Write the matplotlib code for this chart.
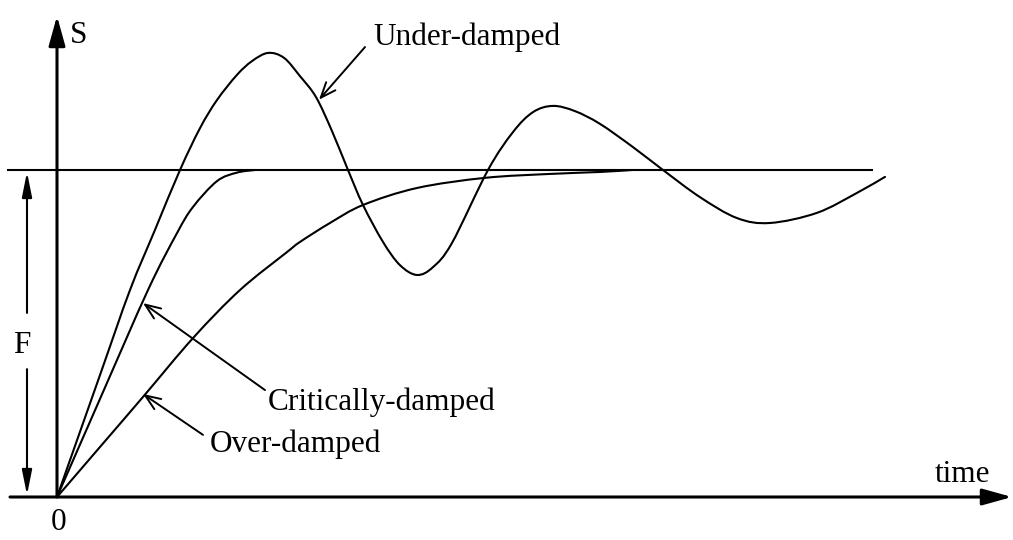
import matplotlib
matplotlib.use("Agg")
import matplotlib.pyplot as plt
from matplotlib.path import Path
from matplotlib.patches import PathPatch

plt.rcParams['font.family'] = ['Liberation Serif', 'DejaVu Serif']

# ---- data (time in arbitrary units, S normalised so that F = 1) ----
under_t = [0.00, 0.43, 0.73, 0.98, 1.23, 1.43, 1.60, 1.80, 1.95, 2.11, 2.27, 2.43,
           2.59, 2.75, 2.91, 3.06, 3.26, 3.43, 3.60, 3.76, 3.95, 4.31, 4.56, 4.76, 4.96,
           5.18, 5.43, 5.76, 6.06, 6.43, 6.80, 7.13, 7.60, 8.00, 8.28]
under_s = [0.000, 0.373, 0.633, 0.817, 1.000, 1.128, 1.214, 1.291, 1.333, 1.358, 1.343, 1.287,
           1.223, 1.119, 1.000, 0.893, 0.780, 0.709, 0.679, 0.703, 0.777, 1.000, 1.116, 1.177, 1.196,
           1.180, 1.141, 1.070, 1.000, 0.917, 0.853, 0.838, 0.869, 0.930, 0.979]

crit_t = [0.00, 0.43, 0.91, 1.20, 1.36, 1.60, 1.80, 1.98]
crit_s = [0.000, 0.300, 0.633, 0.807, 0.887, 0.966, 0.992, 1.000]

over_t = [0.00, 0.43, 0.86, 1.36, 1.83, 2.30, 2.43, 2.73, 3.06, 3.60, 4.28, 4.93, 5.43, 5.75]
over_s = [0.000, 0.153, 0.306, 0.486, 0.633, 0.749, 0.780, 0.838, 0.893, 0.945, 0.976, 0.988, 0.994, 1.000]

final_value = 1.0
labels = ["Under-damped", "Critically-damped", "Over-damped"]


def smooth_path(xs, ys):
    """Cubic Bezier path passing through the given points (Catmull-Rom style)."""
    pts = list(zip(xs, ys))
    n = len(pts)
    verts = [pts[0]]
    codes = [Path.MOVETO]
    for i in range(n - 1):
        p0 = pts[i - 1] if i > 0 else pts[i]
        p1 = pts[i]
        p2 = pts[i + 1]
        p3 = pts[i + 2] if i + 2 < n else pts[i + 1]
        c1 = (p1[0] + (p2[0] - p0[0]) / 6.0, p1[1] + (p2[1] - p0[1]) / 6.0)
        c2 = (p2[0] - (p3[0] - p1[0]) / 6.0, p2[1] - (p3[1] - p1[1]) / 6.0)
        verts += [c1, c2, p2]
        codes += [Path.CURVE4] * 3
    return Path(verts, codes)


# ---- figure ----
fig = plt.figure(figsize=(10.13, 5.40), dpi=100)
ax = fig.add_axes([0, 0, 1, 1])
ax.set_xlim(-0.57, 9.56)
ax.set_ylim(-0.1315, 1.5199)
ax.axis('off')

lw = 1.5
for t, s in [(under_t, under_s), (crit_t, crit_s), (over_t, over_s)]:
    ax.add_patch(PathPatch(smooth_path(t, s), facecolor='none', edgecolor='k', lw=lw,
                           joinstyle='round', capstyle='round'))

# final value line
ax.plot([-0.49, 8.15], [final_value, final_value], color='k', lw=lw)

# axes with arrows
axis_arrow = dict(arrowstyle='-|>,head_length=0.9,head_width=0.25', lw=2.2, color='k',
                  mutation_scale=20, shrinkA=0, shrinkB=0)
ax.annotate('', xy=(0, 1.471), xytext=(0, 0), arrowprops=axis_arrow)
ax.annotate('', xy=(9.55, 0), xytext=(-0.47, 0), arrowprops=axis_arrow)

# F dimension arrow
dim_arrow = dict(arrowstyle='-|>,head_length=0.75,head_width=0.15', lw=1.5, color='k',
                 mutation_scale=20, shrinkA=0, shrinkB=0)
ax.annotate('', xy=(-0.30, 0.994), xytext=(-0.30, 0.563), arrowprops=dim_arrow)
ax.annotate('', xy=(-0.30, 0.006), xytext=(-0.30, 0.391), arrowprops=dim_arrow)

# callouts
call_arrow = dict(arrowstyle='->,head_length=0.55,head_width=0.22', lw=1.4, color='k',
                  mutation_scale=20, shrinkA=0, shrinkB=0)
ax.annotate('', xy=(2.62, 1.215), xytext=(3.08, 1.376), arrowprops=call_arrow)
ax.annotate('', xy=(0.86, 0.593), xytext=(2.08, 0.327), arrowprops=call_arrow)
ax.annotate('', xy=(0.86, 0.315), xytext=(1.46, 0.190), arrowprops=call_arrow)

fs = 22.5
ax.text(3.16, 1.382, labels[0], fontsize=fs, ha='left', va='baseline')
ax.text(2.11, 0.266, labels[1], fontsize=fs, ha='left', va='baseline')
ax.text(1.53, 0.137, labels[2], fontsize=fs, ha='left', va='baseline')
ax.text(8.78, 0.046, "time", fontsize=fs, ha='left', va='baseline')
ax.text(0.13, 1.388, "S", fontsize=fs, ha='left', va='baseline')
ax.text(0.02, -0.101, "0", fontsize=fs, ha='center', va='baseline')
ax.text(-0.35, 0.440, "F", fontsize=fs, ha='center', va='baseline')

fig.savefig("out.png", dpi=100)
